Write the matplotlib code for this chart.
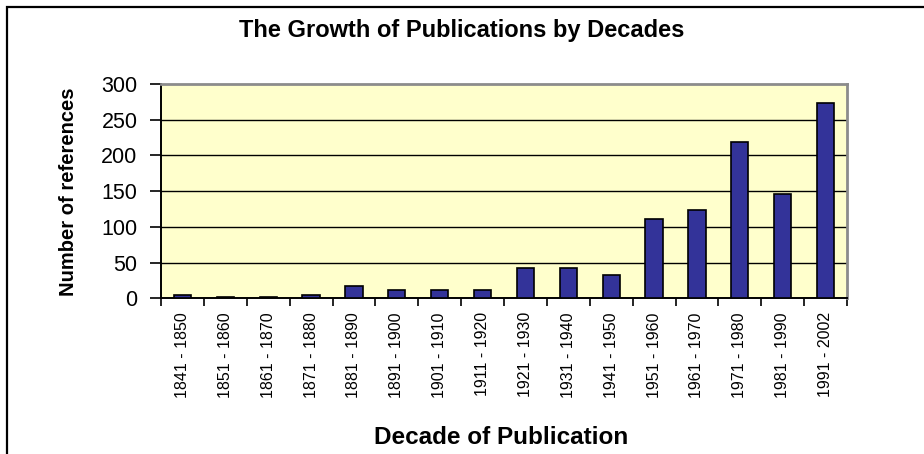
import matplotlib
matplotlib.use("Agg")
import matplotlib.pyplot as plt
from matplotlib.patches import Rectangle
import numpy as np

categories = ["1841 - 1850", "1851 - 1860", "1861 - 1870", "1871 - 1880",
              "1881 - 1890", "1891 - 1900", "1901 - 1910", "1911 - 1920",
              "1921 - 1930", "1931 - 1940", "1941 - 1950", "1951 - 1960",
              "1961 - 1970", "1971 - 1980", "1981 - 1990", "1991 - 2002"]
values = [4, 2, 2, 4, 17, 12, 12, 12, 43, 43, 32, 111, 124, 219, 146, 274]
yticks = [0, 50, 100, 150, 200, 250, 300]

title = "The Growth of Publications by Decades"
xlabel = "Decade of Publication"
ylabel = "Number of references"

plt.rcParams['font.family'] = ['Liberation Sans', 'DejaVu Sans']

W, H = 924, 454
fig = plt.figure(figsize=(W / 100, H / 100), dpi=100)
fig.patch.set_facecolor("white")

# outer chart frame
fig.patches.append(Rectangle((7 / W, -0.05), 1.2, 1 - 6.5 / H + 0.05,
                             transform=fig.transFigure, fill=False,
                             edgecolor="black", linewidth=1.6))

ax = fig.add_axes([161 / W, (H - 298.3) / H, (847 - 161) / W, (298.3 - 84) / H])
ax.set_facecolor("#FFFFCC")

x = np.arange(len(categories))
ax.bar(x, values, width=0.4, color="#333399", edgecolor="black", linewidth=1.2, zorder=3)

ax.set_xlim(-0.5, len(categories) - 0.5)
ax.set_ylim(0, 300)
ax.set_yticks(yticks)
ax.set_yticklabels([str(v) for v in yticks], fontsize=15.5)
for v in yticks[1:-1]:
    ax.axhline(v, color="black", linewidth=1.0, zorder=1)

ax.set_xticks(x)
ax.set_xticklabels(categories, rotation=90, fontsize=11.5)
ax.set_xticks(np.arange(len(categories) + 1) - 0.5, minor=True)
ax.tick_params(axis="x", which="major", length=0, pad=10)
ax.tick_params(axis="x", which="minor", length=6, width=1.2, direction="out", color="black")
ax.tick_params(axis="y", length=8, width=1.2, direction="out", pad=9, color="black")

for s in ["left", "bottom"]:
    ax.spines[s].set_color("black")
    ax.spines[s].set_linewidth(1.4)
for s in ["top", "right"]:
    ax.spines[s].set_color("#8C8C8C")
    ax.spines[s].set_linewidth(2.0)

fig.text(462 / W, 1 - 30 / H, title, ha="center", va="center", fontsize=17, fontweight="bold")
fig.text((372 + 630) / 2 / W, 1 - 437 / H, xlabel, ha="center", va="center", fontsize=17.5, fontweight="bold")
fig.text(68 / W, 1 - 192 / H, ylabel, ha="center", va="center", rotation=90,
         fontsize=14.5, fontweight="bold")

fig.savefig("out.png", dpi=100)
